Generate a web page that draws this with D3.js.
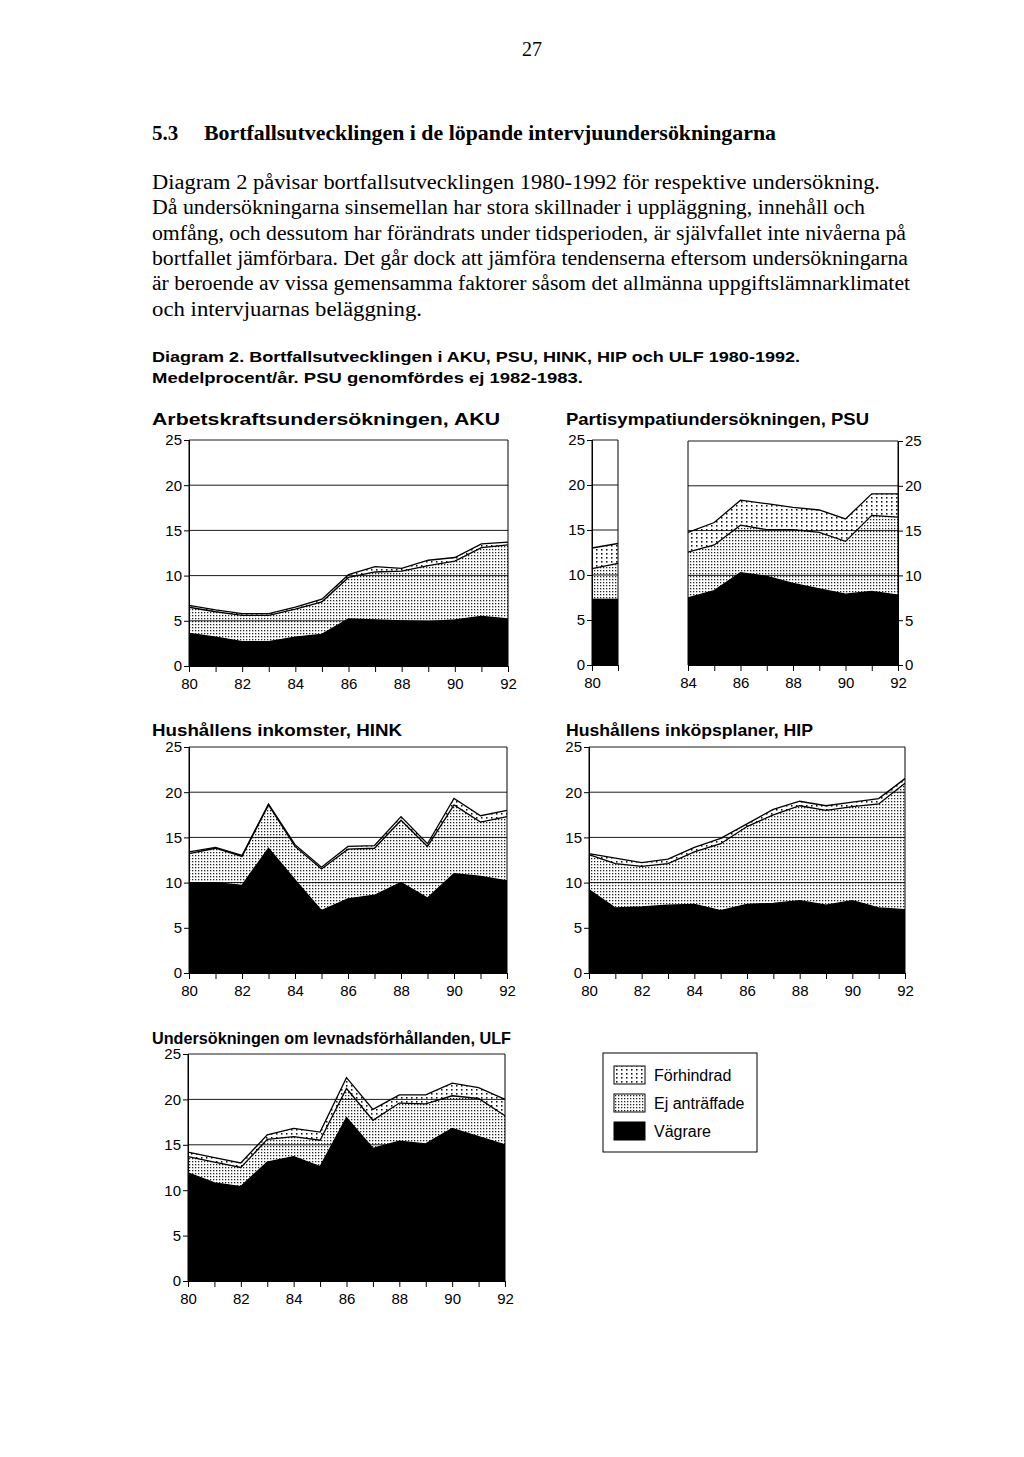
<!DOCTYPE html>
<html><head><meta charset="utf-8">
<script src="https://cdn.jsdelivr.net/npm/d3@7"></script>
<style>
html,body{margin:0;padding:0;background:#fff;}
svg{display:block;}
</style></head>
<body>
<svg id="page" width="1024" height="1457"></svg>
<script>
// ---------------- DATA ----------------
const allYears = [80,81,82,83,84,85,86,87,88,89,90,91,92];
const psuYears = [80,81,84,85,86,87,88,89,90,91,92];
const yTicks = [0,5,10,15,20,25];
const seriesKeys = ["vagr","ej","forh"];
const seriesNames = ["Vägrare","Ej anträffade","Förhindrad"];

// AKU
const akuVagr = [3.6,3.2,2.7,2.7,3.2,3.5,5.2,5.1,5.0,4.9,5.1,5.5,5.2];
const akuEj   = [2.9,2.8,2.9,2.9,3.1,3.6,4.6,5.3,5.5,6.2,6.5,7.6,8.2];
const akuForh = [0.2,0.2,0.2,0.2,0.2,0.3,0.3,0.6,0.3,0.6,0.4,0.4,0.3];
// PSU (not carried out 1982-1983)
const psuVagr = [7.3,7.3,7.5,8.3,10.3,9.9,9.1,8.5,7.9,8.2,7.8];
const psuEj   = [3.4,4.0,5.1,5.1,5.3,5.2,6.0,6.3,5.9,8.5,8.7];
const psuForh = [2.3,2.2,2.2,2.5,2.8,2.9,2.5,2.5,2.5,2.4,2.6];
// HINK
const hinkVagr = [10.0,10.0,9.7,13.8,10.3,6.9,8.2,8.6,10.0,8.3,11.0,10.7,10.2];
const hinkEj   = [3.2,3.8,3.2,4.8,3.7,4.6,5.5,5.2,6.9,5.7,7.6,6.0,7.1];
const hinkForh = [0.2,0.1,0.1,0.1,0.2,0.2,0.3,0.3,0.4,0.3,0.7,0.7,0.7];
// HIP
const hipVagr = [9.2,7.2,7.3,7.5,7.6,6.9,7.6,7.7,8.0,7.5,8.0,7.2,7.0];
const hipEj   = [3.9,4.9,4.5,4.6,5.8,7.4,8.6,9.8,10.5,10.5,10.4,11.5,14.0];
const hipForh = [0.1,0.6,0.4,0.5,0.5,0.6,0.3,0.6,0.5,0.5,0.5,0.6,0.5];
// ULF
const ulfVagr = [11.9,10.8,10.4,13.1,13.7,12.6,18.0,14.6,15.4,15.1,16.8,15.9,15.0];
const ulfEj   = [1.8,2.3,2.1,2.5,2.2,2.9,3.2,3.1,4.2,4.4,3.6,4.2,3.2];
const ulfForh = [0.5,0.5,0.5,0.5,0.9,0.9,1.2,1.2,0.9,1.0,1.4,1.2,1.8];

// ---------------- TEXTS ----------------
const pageNo = "27";
const heading = ["5.3","Bortfallsutvecklingen i de löpande intervjuundersökningarna"];
const bodyLines = [
 "Diagram 2 påvisar bortfallsutvecklingen 1980-1992 för respektive undersökning.",
 "Då undersökningarna sinsemellan har stora skillnader i uppläggning, innehåll och",
 "omfång, och dessutom har förändrats under tidsperioden, är självfallet inte nivåerna på",
 "bortfallet jämförbara. Det går dock att jämföra tendenserna eftersom undersökningarna",
 "är beroende av vissa gemensamma faktorer såsom det allmänna uppgiftslämnarklimatet",
 "och intervjuarnas beläggning."
];
const captionLines = [
 "Diagram 2. Bortfallsutvecklingen i AKU, PSU, HINK, HIP och ULF 1980-1992.",
 "Medelprocent/år. PSU genomfördes ej 1982-1983."
];

// ---------------- DRAW ----------------
const svg = d3.select("#page");
const SERIF = "'Liberation Serif','Times New Roman',serif";
const SANS = "'Liberation Sans',Arial,Helvetica,sans-serif";

const defs = svg.append("defs");
// Ej anträffade: fine dense dots
const pEj = defs.append("pattern").attr("id","pEj").attr("patternUnits","userSpaceOnUse")
  .attr("width",3).attr("height",3);
pEj.append("rect").attr("width",3).attr("height",3).attr("fill","#fff");
pEj.append("rect").attr("x",0).attr("y",0).attr("width",1.3).attr("height",1.3).attr("fill","#222");
// Förhindrad: sparse dots in columns
const pF = defs.append("pattern").attr("id","pForh").attr("patternUnits","userSpaceOnUse")
  .attr("width",5).attr("height",4);
pF.append("rect").attr("width",5).attr("height",4).attr("fill","#fff");
pF.append("rect").attr("x",1).attr("y",1).attr("width",1.5).attr("height",1.6).attr("fill","#111");

const fills = {vagr:"#000", ej:"url(#pEj)", forh:"url(#pForh)"};

// page text
svg.append("text").attr("x",532).attr("y",56).attr("text-anchor","middle")
  .style("font-family",SERIF).style("font-size","20px").text(pageNo);
svg.append("text").attr("x",152).attr("y",140).style("font-family",SERIF)
  .style("font-size","21px").style("font-weight","bold").text(heading[0]);
svg.append("text").attr("x",204).attr("y",140).style("font-family",SERIF)
  .style("font-size","21px").style("font-weight","bold")
  .attr("textLength",572).attr("lengthAdjust","spacingAndGlyphs").text(heading[1]);

const bodyWidths = [728,713,754,756,758,270];
bodyLines.forEach((t,i)=>{
  svg.append("text").attr("x",152).attr("y",189+i*25.3)
    .style("font-family",SERIF).style("font-size","20px")
    .attr("textLength",bodyWidths[i]).attr("lengthAdjust","spacingAndGlyphs").text(t);
});
const capWidths = [648,431];
captionLines.forEach((t,i)=>{
  svg.append("text").attr("x",152).attr("y",362+i*21)
    .style("font-family",SANS).style("font-size","15.5px").style("font-weight","bold")
    .attr("textLength",capWidths[i]).attr("lengthAdjust","spacingAndGlyphs").text(t);
});

function title(x,y,w,t){
  svg.append("text").attr("x",x).attr("y",y).style("font-family",SANS)
    .style("font-size","17px").style("font-weight","bold")
    .attr("textLength",w).attr("lengthAdjust","spacingAndGlyphs").text(t);
}

function panel(cfg){
  const g = svg.append("g");
  const x = d3.scaleLinear().domain(cfg.xDomain).range([cfg.x0,cfg.x1]);
  const y = d3.scaleLinear().domain([0,25]).range([cfg.yBottom,cfg.yTop]);
  const rows = cfg.years.map((yr,i)=>({year:yr, vagr:cfg.vagr[i], ej:cfg.ej[i], forh:cfg.forh[i]}));
  const stacked = d3.stack().keys(seriesKeys)(rows);
  const area = d3.area().x(d=>x(d.data.year)).y0(d=>y(d[0])).y1(d=>y(d[1]));
  const line = d3.line().x(d=>x(d.data.year)).y(d=>y(d[1]));
  stacked.slice().reverse().forEach(s=>{
    g.append("path").datum(s).attr("d",area).attr("fill",fills[s.key]).attr("stroke","none");
  });
  // gridlines
  g.selectAll("line.grid").data(yTicks.filter(v=>v>0)).enter().append("line")
    .attr("x1",cfg.x0).attr("x2",cfg.x1).attr("y1",d=>y(d)).attr("y2",d=>y(d))
    .attr("stroke","#000").attr("stroke-width",0.9);
  // boundary lines
  stacked.forEach(s=>{
    g.append("path").datum(s).attr("d",line).attr("fill","none")
      .attr("stroke","#000").attr("stroke-width",1.3);
  });
  // frame verticals
  [cfg.x0,cfg.x1].forEach(xx=>{
    g.append("line").attr("x1",xx).attr("x2",xx).attr("y1",y(0)).attr("y2",y(25))
      .attr("stroke","#000").attr("stroke-width",1);
  });
  // y axis
  if(cfg.yAxis){
    const ax = cfg.yAxis==="left" ? d3.axisLeft(y) : d3.axisRight(y);
    ax.tickValues(yTicks).tickSize(5).tickPadding(2).tickFormat(d3.format("d"));
    const ag = g.append("g").attr("transform",`translate(${cfg.yAxis==="left"?cfg.x0:cfg.x1},0)`).call(ax);
    ag.select(".domain").attr("stroke","#000");
    ag.selectAll("text").style("font-family",SANS).style("font-size","15px").attr("fill","#000");
  }
  // x axis
  const xa = d3.axisBottom(x).tickValues(cfg.years).tickSize(6).tickPadding(6)
    .tickFormat(d=>cfg.labels.includes(d)?String(d):"");
  const xg = g.append("g").attr("transform",`translate(0,${y(0)})`).call(xa);
  xg.select(".domain").attr("stroke","#000");
  xg.selectAll("text").style("font-family",SANS).style("font-size","15px").attr("fill","#000");
  return {x,y};
}

// AKU
title(152,425,348,"Arbetskraftsundersökningen, AKU");
panel({years:allYears,xDomain:[80,92],x0:189,x1:508,yTop:440,yBottom:666,
  vagr:akuVagr,ej:akuEj,forh:akuForh,yAxis:"left",labels:[80,82,84,86,88,90,92]});

// PSU
title(566,425,303,"Partisympatiundersökningen, PSU");
panel({years:psuYears.slice(0,2),xDomain:[80,81],x0:592,x1:618,yTop:440,yBottom:665,
  vagr:psuVagr.slice(0,2),ej:psuEj.slice(0,2),forh:psuForh.slice(0,2),yAxis:"left",labels:[80]});
panel({years:psuYears.slice(2),xDomain:[84,92],x0:688,x1:898,yTop:441,yBottom:665,
  vagr:psuVagr.slice(2),ej:psuEj.slice(2),forh:psuForh.slice(2),yAxis:"right",labels:[84,86,88,90,92]});

// HINK
title(152,736,250,"Hushållens inkomster, HINK");
panel({years:allYears,xDomain:[80,92],x0:189,x1:507,yTop:747,yBottom:973,
  vagr:hinkVagr,ej:hinkEj,forh:hinkForh,yAxis:"left",labels:[80,82,84,86,88,90,92]});

// HIP
title(566,736,247,"Hushållens inköpsplaner, HIP");
panel({years:allYears,xDomain:[80,92],x0:589,x1:905,yTop:747,yBottom:973,
  vagr:hipVagr,ej:hipEj,forh:hipForh,yAxis:"left",labels:[80,82,84,86,88,90,92]});

// ULF
title(152,1044,359,"Undersökningen om levnadsförhållanden, ULF");
panel({years:allYears,xDomain:[80,92],x0:188,x1:505,yTop:1054,yBottom:1281,
  vagr:ulfVagr,ej:ulfEj,forh:ulfForh,yAxis:"left",labels:[80,82,84,86,88,90,92]});

// Legend
const lg = svg.append("g");
lg.append("rect").attr("x",603).attr("y",1053).attr("width",154).attr("height",99)
  .attr("fill","#fff").attr("stroke","#000").attr("stroke-width",1);
const legendOrder = ["forh","ej","vagr"];
legendOrder.forEach((k,i)=>{
  const yy = 1066 + i*28;
  lg.append("rect").attr("x",614).attr("y",yy).attr("width",31).attr("height",18)
    .attr("fill",fills[k]).attr("stroke","#000").attr("stroke-width",1);
  lg.append("text").attr("x",654).attr("y",yy+15).style("font-family",SANS)
    .style("font-size","16px").text(seriesNames[seriesKeys.indexOf(k)]);
});
</script>
</body></html>
